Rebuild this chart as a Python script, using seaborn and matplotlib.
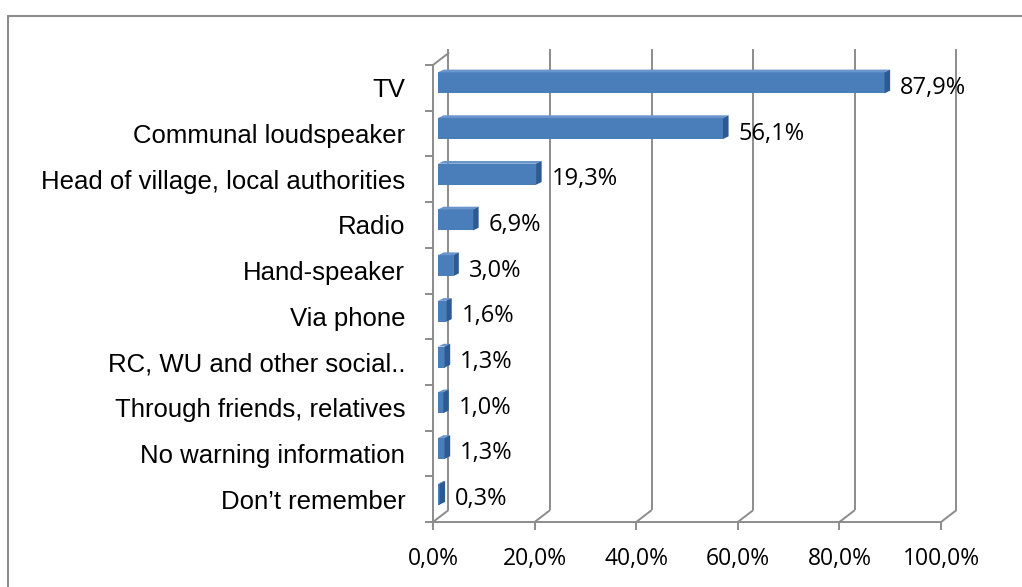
import matplotlib
matplotlib.use("Agg")
import matplotlib.pyplot as plt
from matplotlib.lines import Line2D
from matplotlib.patches import Polygon
from matplotlib.transforms import offset_copy
import seaborn as sns
import pandas as pd

# Sources of warning information (share of respondents, %)
categories = [
    "TV",
    "Communal loudspeaker",
    "Head of village, local authorities",
    "Radio",
    "Hand-speaker",
    "Via phone",
    "RC, WU and other social..",
    "Through friends, relatives",
    "No warning information",
    "Don\u2019t remember",
]
values = [87.9, 56.1, 19.3, 6.9, 3.0, 1.6, 1.3, 1.0, 1.3, 0.3]
x_ticks = [0, 20, 40, 60, 80, 100]
x_tick_labels = ["0,0%", "20,0%", "40,0%", "60,0%", "80,0%", "100,0%"]

sns.set_theme(style="white")
plt.rcParams["font.family"] = ["Liberation Sans", "DejaVu Sans"]
num_font = ["Open Sans", "DejaVu Sans"]

W, H = 1022, 587
fig = plt.figure(figsize=(W / 100, H / 100), dpi=100)
fig.patch.set_facecolor("white")
ax = fig.add_axes([433 / W, (H - 522) / H, (941 - 433) / W, (522 - 65) / H])
ax.set_facecolor("none")

grid_c = "#8c8c8c"
grid_lw = 1.4
front_c = "#4a7ebb"
top_c = "#6a95cc"
side_c = "#2c5a93"

n = len(categories)
lo, hi = -0.5, n - 0.5
# depth of the 3-D box, in data units (x: percent, y: category bands)
DX, DY = 3.05, 0.26
# thickness of each bar in depth
BDX, BDY = 1.1, 0.06

ax.set_xlim(0, 100)
ax.set_ylim(hi, lo)

# back wall gridlines with their floor connectors
for t in x_ticks:
    ax.plot([t, t + DX], [hi, hi - DY], color=grid_c, lw=grid_lw,
            clip_on=False, zorder=1, solid_capstyle="butt")
    ax.plot([t + DX, t + DX], [hi - DY, lo - DY - 0.08], color=grid_c,
            lw=grid_lw, clip_on=False, zorder=1, solid_capstyle="butt")
# left wall top edge
ax.plot([0, DX], [lo, lo - DY], color=grid_c, lw=grid_lw, clip_on=False, zorder=1)

df = pd.DataFrame({"source": categories, "share": values})
sns.barplot(data=df, x="share", y="source", orient="h", color=front_c,
            saturation=1, width=0.46, ax=ax, zorder=3)

shift = offset_copy(ax.transData, fig=fig, x=5, y=5, units="dots")
for bar, v in zip(ax.patches, values):
    bar.set_transform(shift)
    bar.set_edgecolor("none")
    y0 = bar.get_y()
    y1 = y0 + bar.get_height()
    top = Polygon([(0, y0), (v, y0), (v + BDX, y0 - BDY), (BDX, y0 - BDY)],
                  closed=True, facecolor=top_c, edgecolor="none",
                  transform=shift, zorder=3, clip_on=False)
    side = Polygon([(v, y0), (v, y1), (v + BDX, y1 - BDY), (v + BDX, y0 - BDY)],
                   closed=True, facecolor=side_c, edgecolor="none",
                   transform=shift, zorder=3, clip_on=False)
    ax.add_patch(top)
    ax.add_patch(side)

# value labels
for i, v in enumerate(values):
    ax.text(v + 4.0, i + 0.0, f"{v:.1f}".replace(".", ",") + "%",
            ha="left", va="center", fontsize=17, family=num_font,
            color="black", zorder=5)

# axes styling
for s in ["top", "right"]:
    ax.spines[s].set_visible(False)
for s in ["left", "bottom"]:
    ax.spines[s].set_color(grid_c)
    ax.spines[s].set_linewidth(grid_lw)
    ax.spines[s].set_zorder(2)

ax.set_xticks(x_ticks)
ax.set_xticklabels(x_tick_labels, family=num_font, fontsize=16.5, color="black")
ax.tick_params(axis="x", which="major", direction="out", length=6, width=grid_lw,
               color=grid_c, pad=12, bottom=True)

ax.set_yticks([b - 0.5 for b in range(n + 1)], labels=[""] * (n + 1))
ax.set_yticks(list(range(n)), labels=categories, minor=True)
ax.tick_params(axis="y", which="major", direction="out", length=6, width=grid_lw,
               color=grid_c, left=True)
ax.tick_params(axis="y", which="minor", length=0, pad=20, labelsize=18.5,
               labelcolor="black", left=True)
ax.set_xlabel("")
ax.set_ylabel("")
ax.grid(False)

# chart area border (left and top)
bx, by = 8 / W, (H - 16) / H
fig.add_artist(Line2D([bx, bx], [0, by], color=grid_c, lw=1.5, transform=fig.transFigure))
fig.add_artist(Line2D([bx, 1], [by, by], color=grid_c, lw=1.5, transform=fig.transFigure))

fig.savefig("out.png", dpi=100)
